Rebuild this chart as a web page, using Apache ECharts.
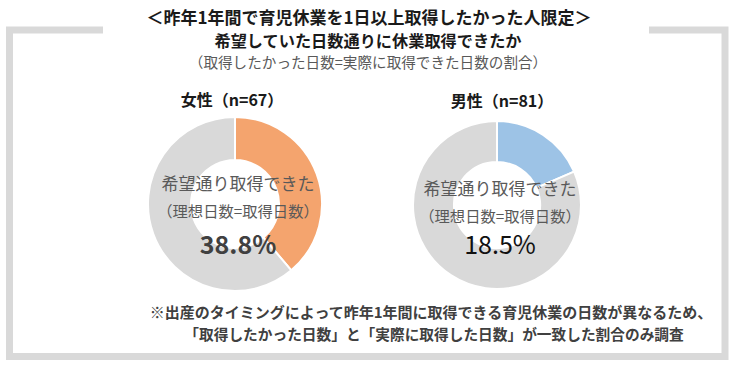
<!DOCTYPE html>
<html><head><meta charset="utf-8">
<script src="https://cdn.jsdelivr.net/npm/echarts@6/dist/echarts.min.js"></script>
<style>html,body{margin:0;padding:0;background:#fff}#c{width:737px;height:366px}</style>
</head><body><div id="c"></div>
<script>
const groups = ['女性', '男性'];
const sampleN = [67, 81];
const achieved = [38.8, 18.5];
const remainder = [61.2, 81.5];
const sliceColors = ['#F4A46E', '#9DC3E6'];
const restColor = '#D9D9D9';
const titleLines = ['＜昨年1年間で育児休業を1日以上取得したかった人限定＞', '希望していた日数通りに休業取得できたか', '（取得したかった日数=実際に取得できた日数の割合）'];
const centerLines = ['希望通り取得できた', '（理想日数=取得日数）'];
const noteLines = ['※出産のタイミングによって昨年1年間に取得できる育児休業の日数が異なるため、', '「取得したかった日数」と「実際に取得した日数」が一致した割合のみ調査'];

const FONT = '"Noto Sans CJK JP", "Noto Sans", sans-serif';
const chart = echarts.init(document.getElementById('c'), null, {renderer: 'svg'});

const centers = [[235, 204], [497, 205]];
const radii = [[44, 87], [43, 84]];
const headY = [99, 100];
const textY = [[182, 210, 243], [187, 215, 243]];
const pctStyle = [{fontWeight: 'bold', fill: '#404040'}, {fontWeight: 'normal', fill: '#111'}];

const series = groups.map((g, i) => ({
  type: 'pie', center: centers[i], radius: radii[i], startAngle: 90, clockwise: true,
  silent: true, label: {show: false}, labelLine: {show: false},
  itemStyle: {borderColor: '#fff', borderWidth: 2},
  data: [
    {name: '希望通り', value: achieved[i], itemStyle: {color: sliceColors[i]}},
    {name: 'その他', value: remainder[i], itemStyle: {color: restColor}}
  ]
}));

function txt(x, y, text, font, fill) {
  return {type: 'text', z: 100, x: x, y: y, style: {text: text, font: font, fill: fill, align: 'center', verticalAlign: 'middle', lineHeight: 16}};
}

const graphics = [
  {type: 'polyline', z: 1, shape: {points: [[103, 30], [9.5, 30], [9.5, 356.5], [725, 356.5], [725, 30], [649, 30]]},
   style: {stroke: '#D9D9D9', lineWidth: 7, fill: null, lineJoin: 'miter'}},
  txt(369, 16, titleLines[0], 'bold 17px ' + FONT, '#1a1a1a'),
  txt(368, 40, titleLines[1], 'bold 16.2px ' + FONT, '#1a1a1a'),
  txt(368, 61, titleLines[2], '14.6px ' + FONT, '#595959'),
  txt(431, 311, noteLines[0], 'bold 15px ' + FONT, '#404040'),
  txt(434, 333, noteLines[1], 'bold 14.7px ' + FONT, '#404040')
];
groups.forEach((g, i) => {
  const cx = centers[i][0];
  graphics.push(
    txt(i === 0 ? 232 : 502, headY[i], g + '（n=' + sampleN[i] + '）', 'bold 16px ' + FONT, '#1a1a1a'),
    txt(cx + 3, textY[i][0], centerLines[0], '17px ' + FONT, '#595959'),
    txt(cx + 3, textY[i][1], centerLines[1], '15.3px ' + FONT, '#595959'),
    txt(cx + 3, textY[i][2], achieved[i].toFixed(1) + '%', pctStyle[i].fontWeight + ' 25px ' + FONT, pctStyle[i].fill)
  );
});

chart.setOption({
  backgroundColor: '#fff',
  animation: false,
  series: series,
  graphic: graphics
});
</script>
</body></html>
